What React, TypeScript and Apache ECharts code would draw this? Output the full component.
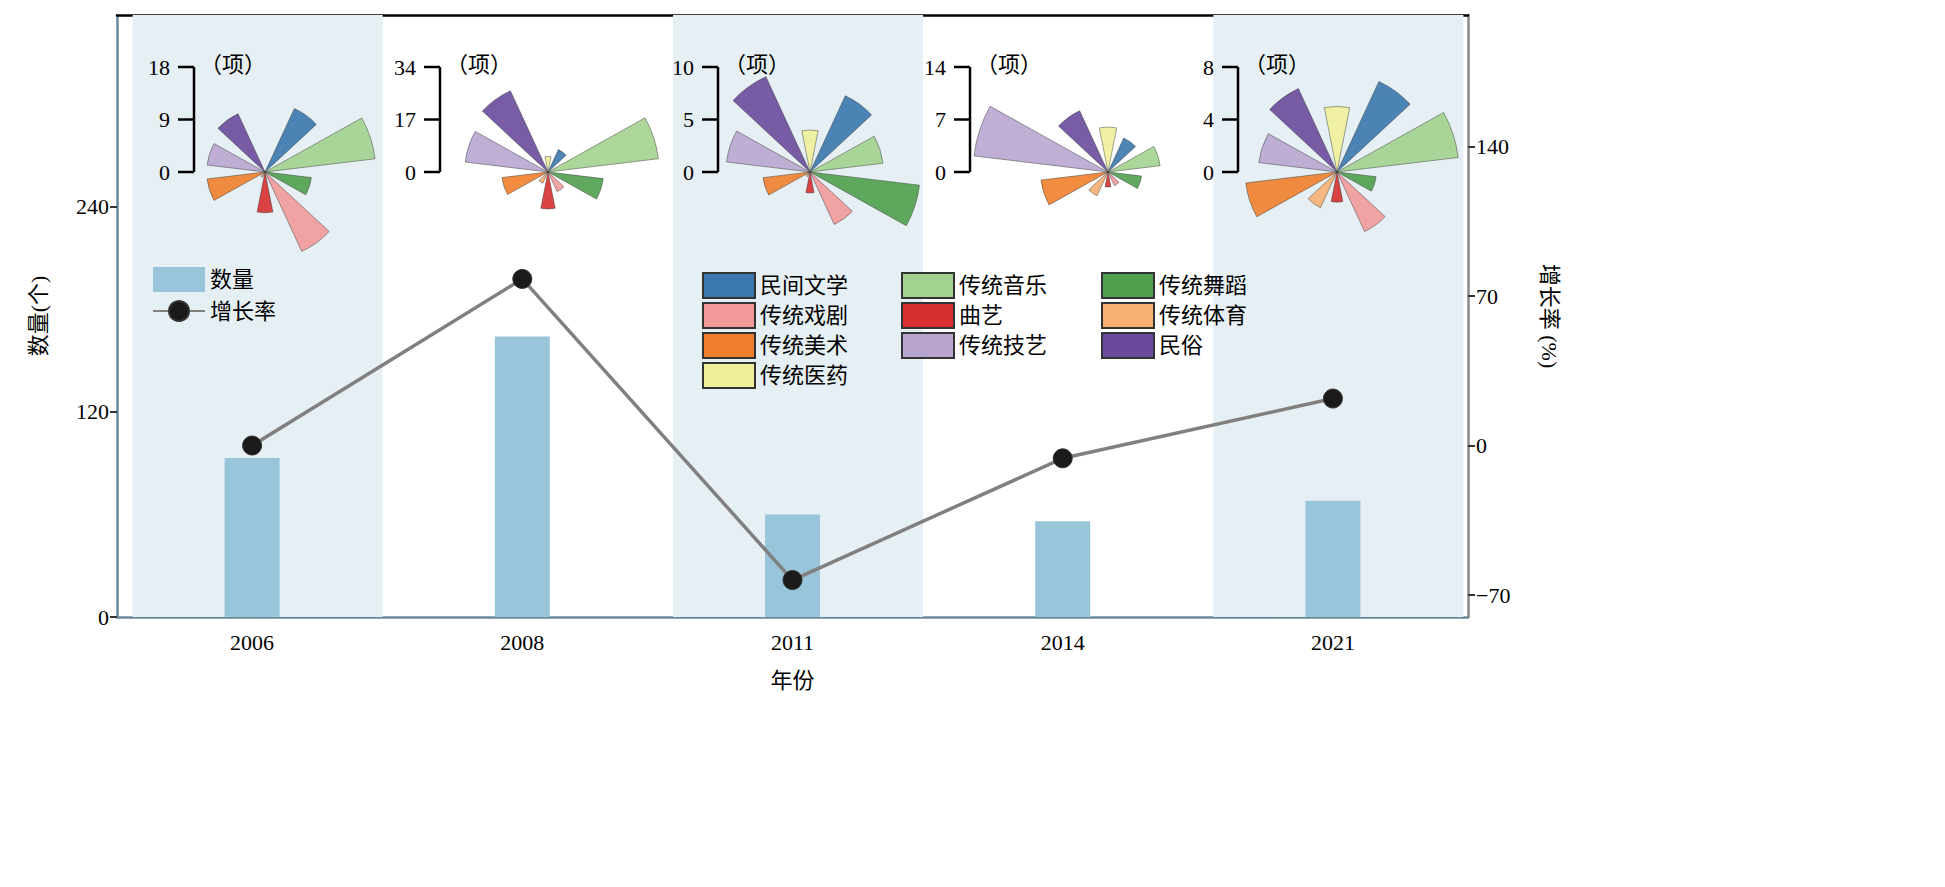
import React, { useEffect, useRef } from "react";
import * as echarts from "echarts";

const years = ["2006", "2008", "2011", "2014", "2021"];
const counts = [93, 164, 60, 56, 68];
const growth = [0, 78, -63, -6, 22];
const kinds = ["民间文学", "传统音乐", "传统舞蹈", "传统戏剧", "曲艺", "传统体育", "传统美术", "传统技艺", "民俗", "传统医药"];
const kindColors = ["#3a78ad", "#a3d18f", "#4fa04d", "#f29a9a", "#d62f2f", "#f5b072", "#ef7f2c", "#b9a6cf", "#6a4a9c", "#f0ef9a"];
const rose2006 = [12, 19, 8, 15, 7, 1, 10, 10, 11, 0];
const rose2008 = [8, 36, 18, 7, 12, 4, 15, 27, 29, 5];
const rose2011 = [8, 7, 10.5, 5.5, 2, 0.5, 4.5, 8, 10, 4];
const rose2014 = [5, 7, 4.5, 2, 2, 3.5, 9, 18, 9, 6];
const rose2021 = [7.6, 9.3, 3, 5, 2.3, 3, 7, 6, 7, 5];
const roses = [rose2006, rose2008, rose2011, rose2014, rose2021];
const roseScaleMax = [18, 34, 10, 14, 8];
const roseTicks = [["0", "9", "18"], ["0", "17", "34"], ["0", "5", "10"], ["0", "7", "14"], ["0", "4", "8"]];
const rightTicks = [-70, 0, 70, 140];

const legendCols = [
  ["民间文学", "传统戏剧", "传统美术", "传统医药"],
  ["传统音乐", "曲艺", "传统技艺"],
  ["传统舞蹈", "传统体育", "民俗"],
];

// layout
const roseCx = [265, 548, 810, 1108, 1337];
const roseCy = 172;
const bracketX = [194, 440, 718, 970, 1238];
const R = 105;
const FONT = "'Liberation Serif', 'Noto Sans CJK SC', serif";

export default function App() {
  const ref = useRef<HTMLDivElement>(null);
  useEffect(() => {
    const chart = echarts.init(ref.current!, undefined, { renderer: "svg" });
    const polar: any[] = [];
    const angleAxis: any[] = [];
    const radiusAxis: any[] = [];
    const series: any[] = [];
    const graphic: any[] = [];
    roses.forEach((vals, p) => {
      polar.push({ center: [roseCx[p], roseCy], radius: R * 1.5 });
      angleAxis.push({ polarIndex: p, type: "category", data: kinds, startAngle: 72, clockwise: true, show: false });
      radiusAxis.push({ polarIndex: p, min: 0, max: roseScaleMax[p] * 1.5, show: false });
      series.push({
        type: "bar", coordinateSystem: "polar", polarIndex: p, name: "rose" + p,
        data: vals.map((v, j) => ({ value: v, itemStyle: { color: kindColors[j] } })),
        barWidth: "62%",
        itemStyle: { opacity: 0.9, borderColor: "#333", borderWidth: 0.5 },
        z: 5,
      });
      const bx = bracketX[p];
      const ys = [172, 119.5, 67];
      graphic.push({ type: "line", shape: { x1: bx, y1: 67, x2: bx, y2: 172 }, style: { stroke: "#000", lineWidth: 2.5 }, z: 10 });
      ys.forEach((y, t) => {
        graphic.push({ type: "line", shape: { x1: bx - 16, y1: y, x2: bx, y2: y }, style: { stroke: "#000", lineWidth: 2.5 }, z: 10 });
        graphic.push({ type: "text", x: bx - 24, y, style: { text: roseTicks[p][t], font: `22px ${FONT}`, fill: "#000", align: "right", verticalAlign: "middle" }, z: 10 });
      });
      graphic.push({ type: "text", x: bx + 6, y: 64, style: { text: "（项）", font: `22px ${FONT}`, fill: "#000", align: "left", verticalAlign: "middle" }, z: 10 });
    });

    // legend-only series
    kinds.forEach((k, i) => {
      series.push({ type: "bar", name: k, xAxisIndex: 2, yAxisIndex: 0, data: [], itemStyle: { color: kindColors[i], borderColor: "#333", borderWidth: 0.5 } });
    });

    series.push({
      type: "bar", name: "shade", xAxisIndex: 2, yAxisIndex: 0, data: [352, null, 352, null, 352],
      barWidth: 250, itemStyle: { color: "#e6eff3" }, silent: true, z: 0,
    });
    series.push({
      type: "bar", name: "数量", xAxisIndex: 0, yAxisIndex: 0, data: counts,
      barWidth: 55, itemStyle: { color: "#98c5da" }, z: 2,
    });
    series.push({
      type: "line", name: "增长率", xAxisIndex: 0, yAxisIndex: 1, data: growth,
      lineStyle: { color: "#808080", width: 3.5 }, symbol: "circle", symbolSize: 19,
      itemStyle: { color: "#1a1a1a", borderColor: "#333", borderWidth: 1 }, z: 4,
    });

    const legendBase = { orient: "vertical", itemWidth: 52, itemHeight: 25, itemGap: 3, textStyle: { fontSize: 22, fontFamily: FONT, color: "#000" } };
    const legends: any[] = [
      { ...legendBase, data: [{ name: "数量", icon: "rect" }, "增长率"], left: 147, top: 262, itemGap: 8 },
      ...legendCols.map((col, c) => ({ ...legendBase, data: col.map((n) => ({ name: n, icon: "rect" })), left: [697, 896, 1096][c], top: 267 })),
    ];

    chart.setOption({
      animation: false,
      textStyle: { fontFamily: FONT },
      grid: { left: 117, right: 477, top: 15, bottom: 270 },
      legend: legends,
      graphic,
      polar, angleAxis, radiusAxis,
      xAxis: [
        {
          type: "category", data: years, position: "bottom",
          name: "年份", nameLocation: "middle", nameGap: 52, nameTextStyle: { fontSize: 22, color: "#000", fontFamily: FONT },
          axisLine: { onZero: false, lineStyle: { color: "#6a8a9b", width: 2.5 } },
          axisTick: { alignWithLabel: true, length: 7, lineStyle: { color: "#333", width: 2 } },
          axisLabel: { fontSize: 22, color: "#000", margin: 14, fontFamily: FONT },
        },
        { type: "category", data: years, position: "top", axisLine: { onZero: false, lineStyle: { color: "#000", width: 2.5 } }, axisTick: { show: false }, axisLabel: { show: false } },
        { type: "category", data: years, show: false },
      ],
      yAxis: [
        {
          type: "value", min: 0, max: 352, interval: 120, position: "left",
          name: "数量(个)", nameLocation: "middle", nameGap: 68, nameRotate: 90,
          nameTextStyle: { fontSize: 22, color: "#000", fontFamily: FONT },
          axisLine: { show: true, lineStyle: { color: "#6a8a9b", width: 2.5 } },
          axisTick: { show: true, length: 7, lineStyle: { color: "#333", width: 2 } },
          axisLabel: { fontSize: 22, color: "#000", fontFamily: FONT, showMaxLabel: false },
          splitLine: { show: false },
        },
        {
          type: "value", min: -80.3, max: 201.6, position: "right",
          name: "增长率 (%)", nameLocation: "middle", nameGap: 70, nameRotate: -90,
          nameTextStyle: { fontSize: 22, color: "#000", fontFamily: FONT },
          axisLine: { show: true, lineStyle: { color: "#888", width: 2.5 } },
          axisTick: { show: true, length: 7, customValues: rightTicks, lineStyle: { color: "#333", width: 2 } },
          axisLabel: { fontSize: 22, color: "#000", fontFamily: FONT, customValues: rightTicks, formatter: (v: number) => (v < 0 ? "−" + Math.abs(v) : String(v)) },
          splitLine: { show: false },
        },
      ],
      series,
    });
    return () => chart.dispose();
  }, []);
  return <div ref={ref} style={{ position: "absolute", left: 0, top: 0, width: 1945, height: 887 }} />;
}
